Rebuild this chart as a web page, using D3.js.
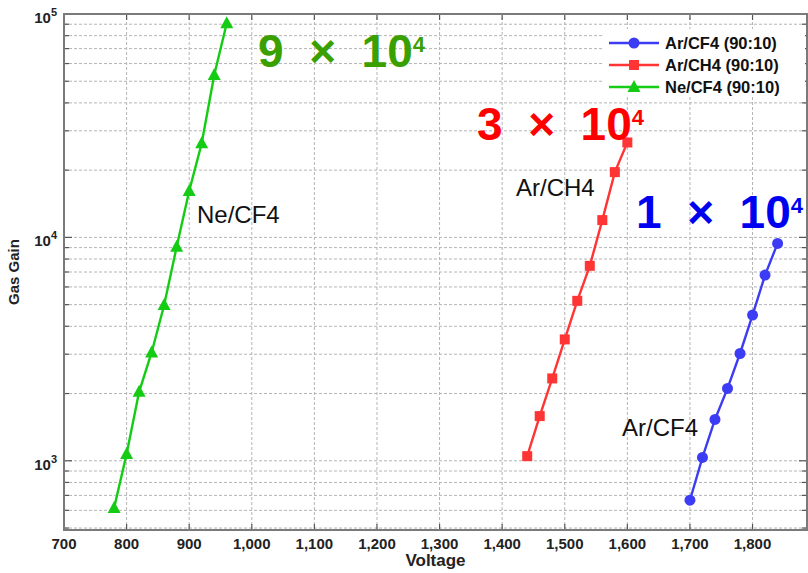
<!DOCTYPE html>
<html><head><meta charset="utf-8">
<script src="https://cdn.jsdelivr.net/npm/d3@7/dist/d3.min.js"></script>
<style>
html,body{margin:0;padding:0;background:#fff;}
svg{display:block;font-family:"Liberation Sans",Arial,Helvetica,sans-serif;}
</style></head><body>
<svg id="chart" width="808" height="573"></svg>
<script>
// ---- data ----
const voltageTicks = [700,800,900,1000,1100,1200,1300,1400,1500,1600,1700,1800];
const gainMajorTicks = [1e3,1e4,1e5];
const seriesNames = ["Ar/CF4 (90:10)","Ar/CH4 (90:10)","Ne/CF4 (90:10)"];
const arCF4Voltage = [1700,1720,1740,1760,1780,1800,1820,1840];
const arCF4Gain    = [666,1035,1531,2108,3022,4490,6780,9400];
const arCH4Voltage = [1440,1460,1480,1500,1520,1540,1560,1580,1600];
const arCH4Gain    = [1049,1585,2337,3494,5200,7460,11950,19600,26600];
const neCF4Voltage = [780,800,820,840,860,880,900,920,940,960];
const neCF4Gain    = [614,1073,2035,3055,4977,9080,16130,26370,53300,90850];
const curveLabels = ["Ar/CF4","Ar/CH4","Ne/CF4"];
const maxGainLabels = [["1","4"],["3","4"],["9","4"]];

// ---- layout ----
const W=808,H=573;
const m={l:64,r:1,t:14,b:43};
const svg=d3.select("#chart");
const x=d3.scaleLinear().domain([700,1887]).range([m.l,W-m.r]);
const y=d3.scaleLog().domain([490,1e5]).range([H-m.b,m.t]);
const x0=m.l,x1=W-m.r,y0=H-m.b,y1=m.t;

const colors={blue:"#3c3cf5",red:"#ff3434",green:"#14cc14"};
const textColors=["#0000f0","#ff0000","#3aa000"];

// grid
const g=svg.append("g");
const yMinor=y.ticks().filter(v=>v>=490&&v<=1e5);
g.selectAll("line.hg").data(yMinor).join("line")
 .attr("x1",x0).attr("x2",x1).attr("y1",d=>y(d)).attr("y2",d=>y(d))
 .attr("stroke","#b4b4b4").attr("stroke-width",1).attr("stroke-dasharray","3,2");
g.selectAll("line.vg").data(voltageTicks.slice(1)).join("line")
 .attr("y1",y0).attr("y2",y1).attr("x1",d=>x(d)).attr("x2",d=>x(d))
 .attr("stroke","#b4b4b4").attr("stroke-width",1).attr("stroke-dasharray","3,2");

// ticks (inward on all sides)
const tk=svg.append("g").attr("stroke","#555").attr("stroke-width",1.2);
yMinor.forEach(v=>{
  const L=gainMajorTicks.includes(v)?8:5;
  tk.append("line").attr("x1",x0).attr("x2",x0+L).attr("y1",y(v)).attr("y2",y(v));
  tk.append("line").attr("x1",x1).attr("x2",x1-L).attr("y1",y(v)).attr("y2",y(v));
});
voltageTicks.forEach(v=>{
  tk.append("line").attr("x1",x(v)).attr("x2",x(v)).attr("y1",y0).attr("y2",y0-6);
  tk.append("line").attr("x1",x(v)).attr("x2",x(v)).attr("y1",y1).attr("y2",y1+6);
});

// frame
svg.append("rect").attr("x",x0).attr("y",y1).attr("width",x1-x0).attr("height",y0-y1)
 .attr("fill","none").attr("stroke","#7a7a7a").attr("stroke-width",2);

// x tick labels
svg.append("g").selectAll("text").data(voltageTicks).join("text")
 .attr("x",d=>x(d)).attr("y",y0+19).attr("text-anchor","middle")
 .attr("font-size",15).attr("font-weight","bold").attr("fill","#222")
 .text(d=>d3.format(",")(d));
// y tick labels
const yl=svg.append("g").selectAll("text").data(gainMajorTicks).join("text")
 .attr("x",57).attr("y",d=>y(d)+9).attr("text-anchor","end")
 .attr("font-size",15).attr("font-weight","bold").attr("fill","#222");
yl.append("tspan").text("10");
yl.append("tspan").attr("font-size",11).attr("dy",-7).text(d=>Math.round(Math.log10(d)));

// axis titles
svg.append("text").attr("x",(x0+x1)/2).attr("y",566).attr("text-anchor","middle")
 .attr("font-size",17).attr("font-weight","bold").attr("fill","#222").text("Voltage");
svg.append("text").attr("transform",`translate(19,${(y0+y1)/2}) rotate(-90)`)
 .attr("text-anchor","middle").attr("font-size",15).attr("font-weight","bold").attr("fill","#222").text("Gas Gain");

// series
const series=[
 {v:arCF4Voltage,g:arCF4Gain,c:colors.blue,shape:"circle"},
 {v:arCH4Voltage,g:arCH4Gain,c:colors.red,shape:"square"},
 {v:neCF4Voltage,g:neCF4Gain,c:colors.green,shape:"triangle"}
];
const line=d3.line().x(d=>x(d[0])).y(d=>y(d[1]));
function marker(sel,shape,c){
  if(shape==="circle") sel.append("circle").attr("r",5.5).attr("fill",c);
  else if(shape==="square") sel.append("rect").attr("x",-5).attr("y",-5).attr("width",10).attr("height",10).attr("fill",c);
  else sel.append("path").attr("d","M0,-7L6.5,5L-6.5,5Z").attr("fill",c);
}
series.forEach(s=>{
  const pts=s.v.map((v,i)=>[v,s.g[i]]);
  svg.append("path").datum(pts).attr("d",line).attr("fill","none").attr("stroke",s.c).attr("stroke-width",2.4);
  pts.forEach(p=>{
    const gg=svg.append("g").attr("transform",`translate(${x(p[0])},${y(p[1])})`);
    marker(gg,s.shape,s.c);
  });
});

// legend
const lg=svg.append("g");
lg.append("rect").attr("x",604).attr("y",29).attr("width",201).attr("height",68).attr("fill","#fff");
const legY=[43,65,87];
series.forEach((s,i)=>{
  lg.append("line").attr("x1",609).attr("x2",659).attr("y1",legY[i]).attr("y2",legY[i]).attr("stroke",s.c).attr("stroke-width",2.4);
  const gg=lg.append("g").attr("transform",`translate(634,${legY[i]})`);
  marker(gg,s.shape,s.c);
  lg.append("text").attr("x",665).attr("y",legY[i]+6).attr("font-size",16.5).attr("font-weight","bold").attr("fill","#111").text(seriesNames[i]);
});

// curve labels
const labelPos=[[622,436],[516,196],[197,223]];
curveLabels.forEach((t,i)=>{
  svg.append("text").attr("x",labelPos[i][0]).attr("y",labelPos[i][1]).attr("font-size",24).attr("fill","#111").text(t);
});

// max gain annotations
const annPos=[[636,228],[477,140],[258,67]];
maxGainLabels.forEach((a,i)=>{
  const t=svg.append("text").attr("x",annPos[i][0]).attr("y",annPos[i][1])
   .attr("font-size",46).attr("font-weight","bold").attr("fill",textColors[i]).style("white-space","pre");
  t.append("tspan").text(a[0]+"  \u00d7  10");
  t.append("tspan").attr("font-size",22).attr("dy",-15).text(a[1]);
});
</script>
</body></html>
